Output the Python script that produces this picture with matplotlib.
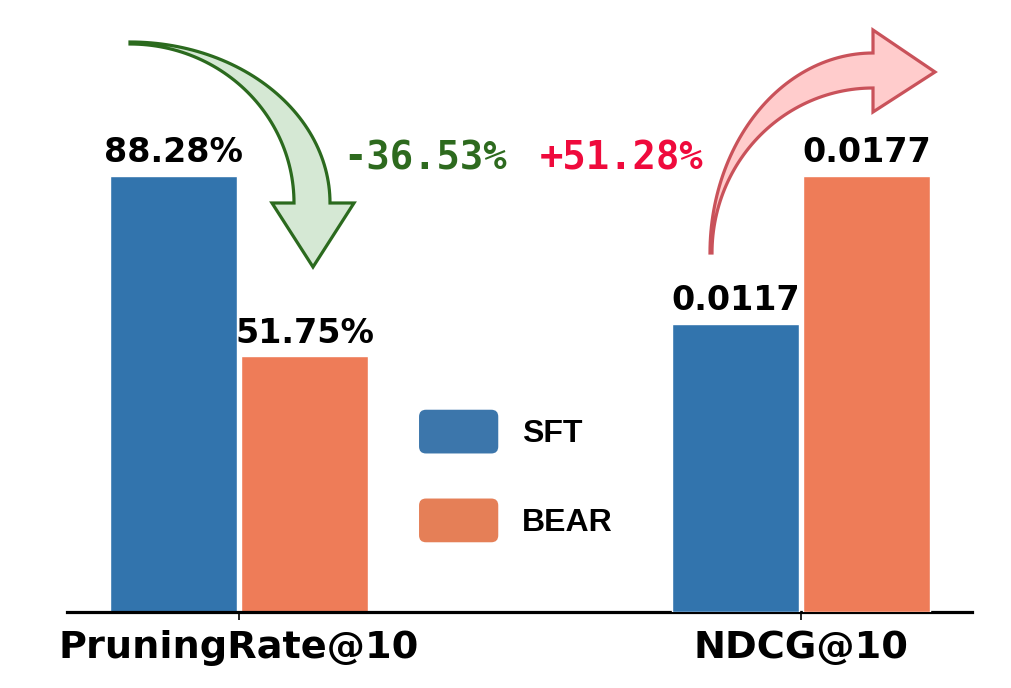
import numpy as np
import matplotlib.pyplot as plt
from matplotlib.patches import PathPatch, Patch, FancyBboxPatch
from matplotlib.path import Path
from matplotlib.legend_handler import HandlerPatch

metrics = ['PruningRate@10', 'NDCG@10']
sft = [88.28, 0.0117]
bear = [51.75, 0.0177]
sft_labels = ['88.28%', '0.0117']
bear_labels = ['51.75%', '0.0177']
changes = ['-36.53%', '+51.28%']

SFT_COLOR = '#3274ad'
BEAR_COLOR = '#ee7c58'

W, H = 1012, 688


def px(x, y):
    # image pixel (from top-left) -> figure fraction
    return x / W, 1 - y / H


class RoundHandler(HandlerPatch):
    def create_artists(self, legend, orig_handle, xdescent, ydescent,
                       width, height, fontsize, trans):
        p = FancyBboxPatch((-xdescent, -ydescent), width, height,
                           boxstyle='round,pad=0,rounding_size=5',
                           facecolor=orig_handle.get_facecolor(),
                           edgecolor='none', transform=trans)
        return [p]


def curved_arrow(cx, cy, outer, inner, t0, t1, head, n=60):
    # outer/inner: (a, b) radii of ellipses around (cx, cy), image pixels
    t = np.linspace(t0, t1, n)
    pts = [(cx + outer[0] * np.cos(a), cy - outer[1] * np.sin(a)) for a in t]
    pts += head
    pts += [(cx + inner[0] * np.cos(a), cy - inner[1] * np.sin(a)) for a in t[::-1]]
    pts.append(pts[0])
    verts = [px(x, y) for x, y in pts]
    codes = [Path.MOVETO] + [Path.LINETO] * (len(verts) - 2) + [Path.CLOSEPOLY]
    return Path(verts, codes)


fig = plt.figure(figsize=(W / 100, H / 100), dpi=100)
ax = fig.add_axes([67 / W, 76 / H, 905 / W, 592 / H])
ax2 = ax.twinx()

x = np.arange(len(metrics))
off = 0.1166
bw = 0.226

for i, a in enumerate([ax, ax2]):
    a.bar(x[i] - off, sft[i], bw, color=SFT_COLOR, edgecolor='white', linewidth=1)
    a.bar(x[i] + off, bear[i], bw, color=BEAR_COLOR, edgecolor='white', linewidth=1)
    a.annotate(sft_labels[i], (x[i] - off, sft[i]), xytext=(0, 5), textcoords='offset points',
               ha='center', va='bottom', fontsize=24, fontweight='bold')
    a.annotate(bear_labels[i], (x[i] + off, bear[i]), xytext=(0, 5), textcoords='offset points',
               ha='center', va='bottom', fontsize=24, fontweight='bold')
    a.set_ylim(0, max(sft[i], bear[i]) * 1.358)
    a.set_yticks([])
    for s in ['top', 'right', 'left']:
        a.spines[s].set_visible(False)

ax2.spines['bottom'].set_visible(False)
ax.spines['bottom'].set_linewidth(2.3)
ax.set_xlim(-0.306, 1.304)
ax.set_xticks(x)
ax.set_xticklabels(metrics, fontsize=27.5, fontweight='bold')
ax.tick_params(axis='x', length=6, width=1.2, pad=7)

handles = [Patch(facecolor='#3c76ab', label='SFT'), Patch(facecolor='#e57f57', label='BEAR')]
fig.legend(handles=handles, loc='center', bbox_to_anchor=px(516, 476), frameon=False,
           prop={'family': 'Liberation Sans', 'weight': 'bold', 'size': 23},
           handlelength=2.48, handleheight=1.73, labelspacing=1.41, handletextpad=0.75,
           handler_map={Patch: RoundHandler()})

# green curved arrow (down)
g_path = curved_arrow(130, 203, (200, 161), (164, 159), np.pi / 2, 0,
                      [(330, 203), (354, 203), (313, 267), (272, 203), (294, 203)])
fig.add_artist(PathPatch(g_path, facecolor='#d5e8d4', edgecolor='#2b6a1e', linewidth=2.3,
                         transform=fig.transFigure, joinstyle='miter'))

# red curved arrow (up)
r_path = curved_arrow(873, 253, (163, 200), (161, 165), np.pi, np.pi / 2,
                      [(873, 53), (873, 30), (935, 72), (873, 112), (873, 88)])
fig.add_artist(PathPatch(r_path, facecolor='#ffcccc', edgecolor='#c9525a', linewidth=2.3,
                         transform=fig.transFigure, joinstyle='miter'))

fig.text(*px(425, 158), changes[0], color='#2d6a1e', fontsize=28, fontweight='bold',
         family='DejaVu Sans Mono', ha='center', va='center')
fig.text(*px(622, 158), changes[1], color='#ef0a3c', fontsize=28, fontweight='bold',
         family='DejaVu Sans Mono', ha='center', va='center')

fig.savefig('out.png', dpi=100)
